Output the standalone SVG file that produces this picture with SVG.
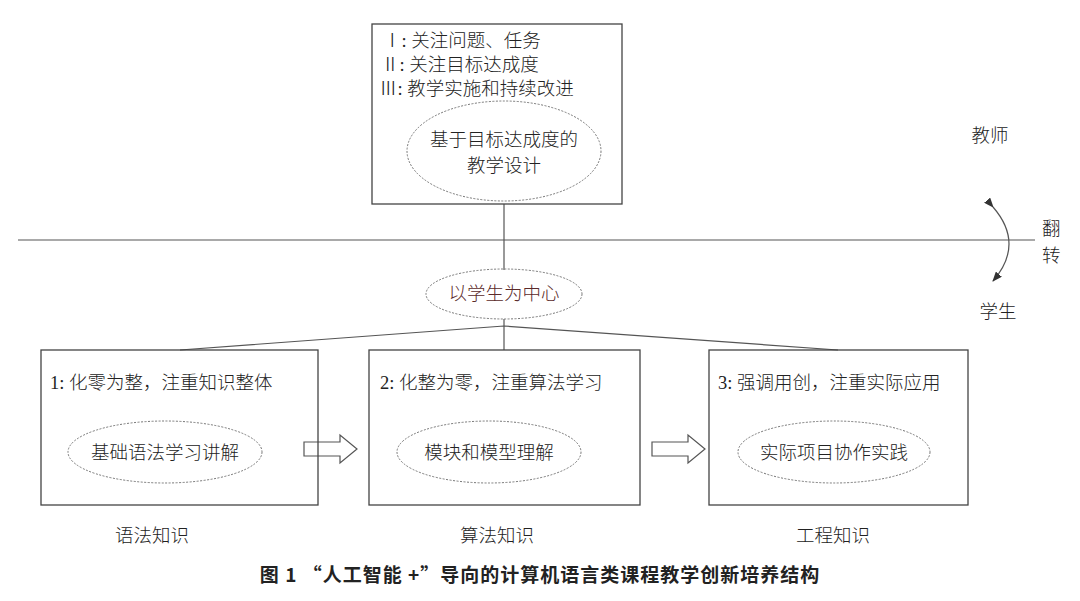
<svg xmlns="http://www.w3.org/2000/svg" width="1080" height="601" viewBox="0 0 1080 601">
<style>
text{font-family:"Liberation Serif","Noto Sans CJK SC",serif;font-size:18.5px;fill:#222;font-weight:300}
.c{text-anchor:middle}
.box{fill:none;stroke:#444;stroke-width:1.3}
.ell{fill:none;stroke:#777;stroke-width:1;stroke-dasharray:2 1.5}
.ln{stroke:#555;stroke-width:1.2;fill:none}
</style>
<defs><marker id="ah" markerWidth="10" markerHeight="8" refX="9" refY="4" orient="auto" markerUnits="userSpaceOnUse"><path d="M0,0 L10,4 L0,8 Z" fill="#333"/></marker></defs>
<rect width="1080" height="601" fill="#fff"/>
<g id="connectors">
<line class="ln" x1="18" y1="240" x2="1035" y2="240"/>
<line class="ln" x1="504" y1="204" x2="504" y2="270"/>
<line class="ln" x1="504" y1="319" x2="504" y2="350"/>
<path class="ln" d="M504,326 L180,350 M504,326 L838,350"/>
<path class="ln" d="M993,207 Q1025,244 993,281" marker-start="url(#ah)" marker-end="url(#ah)"/>
<path class="ln" d="M304,442 H340 V435 L357,449 L340,463 V456 H304 Z"/>
<path class="ln" d="M652,442 H688 V435 L705,449 L688,463 V456 H652 Z"/>
</g>
<g id="top">
<rect class="box" x="372" y="24" width="250" height="180"/>
<text x="383" y="47">Ⅰ: 关注问题、任务</text>
<text x="381" y="71">Ⅱ: 关注目标达成度</text>
<text x="379" y="95">Ⅲ: 教学实施和持续改进</text>
<ellipse class="ell" cx="504" cy="151" rx="97" ry="50"/>
<text class="c" x="504" y="146">基于目标达成度的</text>
<text class="c" x="504" y="172">教学设计</text>
</g>
<g id="center"><ellipse class="ell" cx="504" cy="294" rx="78" ry="25"/><text class="c" x="504" y="300" style="fill:#5a2a2a">以学生为中心</text></g>
<g id="b1"><rect class="box" x="41" y="350" width="277" height="155"/><text x="50" y="389">1: 化零为整，注重知识整体</text><ellipse class="ell" cx="165" cy="452" rx="97" ry="31"/><text class="c" x="165" y="459">基础语法学习讲解</text></g>
<g id="b2"><rect class="box" x="369" y="350" width="271" height="155"/><text x="380" y="389">2: 化整为零，注重算法学习</text><ellipse class="ell" cx="489" cy="452" rx="92" ry="31"/><text class="c" x="489" y="459">模块和模型理解</text></g>
<g id="b3"><rect class="box" x="709" y="350" width="259" height="155"/><text x="718" y="389">3: 强调用创，注重实际应用</text><ellipse class="ell" cx="834" cy="452" rx="96" ry="31"/><text class="c" x="834" y="459">实际项目协作实践</text></g>
<g id="labels">
<text class="c" x="990" y="142">教师</text>
<text x="1042" y="235">翻</text><text x="1042" y="262">转</text>
<text class="c" x="998" y="318">学生</text>
<text class="c" x="152" y="542">语法知识</text>
<text class="c" x="497" y="542">算法知识</text>
<text class="c" x="833" y="542">工程知识</text>
<text class="c" x="540" y="582" style="font-family:'Noto Sans CJK SC',sans-serif;font-weight:bold;font-size:19px;letter-spacing:1px">图 1  “人工智能 +”导向的计算机语言类课程教学创新培养结构</text>
</g>
</svg>
